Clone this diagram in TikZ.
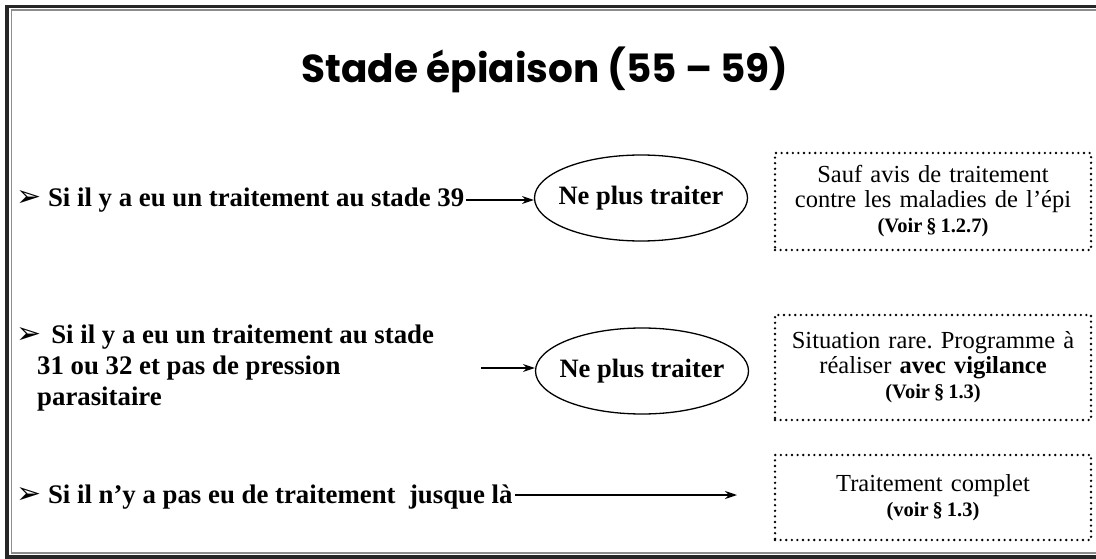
\documentclass[tikz,border=0pt]{standalone}
\usepackage{fontspec}
\setmainfont{Liberation Serif}
\newfontfamily\symfont{DejaVu Sans}
\newfontfamily\titlefont{Poppins}
\usetikzlibrary{shapes.geometric,arrows.meta,positioning}

\tikzset{
  cond/.style={anchor=west,inner sep=2pt,align=left,
    font=\fontsize{26.8}{31}\selectfont\bfseries},
  verdict/.style={ellipse,draw,line width=1.3pt,minimum width=213pt,
    minimum height=86pt,inner xsep=-8pt,inner ysep=0pt,
    font=\fontsize{26.5}{30}\selectfont\bfseries},
  advice/.style={draw,line width=2.6pt,dash pattern=on 0pt off 5.6pt,line cap=round,
    minimum width=316pt,text width=300pt,align=center,inner sep=0pt,
    font=\fontsize{24.5}{25}\selectfont\frenchspacing},
  fleche/.style={line width=1.3pt,-{Stealth[length=12pt,width=8pt]}},
}
\newcommand{\puce}{{\symfont\fontsize{30}{30}\selectfont ➢}}
\newcommand{\voir}[1]{{\fontsize{20.5}{24}\selectfont\bfseries #1}}

\begin{document}
\begin{tikzpicture}[x=1pt,y=-1pt]
\useasboundingbox (0,0) rectangle (1096,559);

% The frame
\begin{scope}
\clip (0,0) rectangle (1096,559);
\draw[line width=3.5pt,black!85] (7,6.5) rectangle (1120,557);
\draw[line width=1.2pt,black!45] (11.5,10) rectangle (1120,553);
\end{scope}

% The title
\node[font=\titlefont\bfseries\fontsize{39}{40}\selectfont,anchor=base] (titre) at (545,83) {Stade épiaison (55 – 59)};

% First case
\node[cond] (cond1) at (14,200) {\puce\ Si il y a eu un traitement au stade 39};
\node[verdict] (ell1) at (641,198) {Ne plus traiter};
\node[advice,minimum height=97pt] (avis1) at (933,201.5) {Sauf avis de traitement\\contre les maladies de l’épi\\\voir{(Voir\hspace{4pt}§\hspace{4pt}1.2.7)}};
\draw[fleche] (cond1.east) -- (cond1.east -| ell1.west);

% Second case
\node[cond] (cond2) at (14,368) {\puce\hspace{10pt}Si il y a eu un traitement au stade\\\hspace*{21pt}31 ou 32 et pas de pression\\\hspace*{21pt}parasitaire};
\coordinate (dep2) at (481,368);
\node[verdict] (ell2) at (642,371) {Ne plus traiter};
\node[advice,minimum height=105pt] (avis2) at (933,367.5) {Situation rare. Programme à\\réaliser \textbf{avec vigilance}\\\voir{(Voir\hspace{4pt}§\hspace{4pt}1.3)}};
\draw[fleche] (dep2) -- (dep2 -| ell2.west);

% Third case
\node[cond] (cond3) at (14,497) {\puce\ Si il n’y a pas eu de traitement\ \ jusque là};
\coordinate (fin3) at (737,495);
\node[advice,minimum height=85pt] (avis3) at (933,497.5) {Traitement complet\\\voir{(voir\hspace{4pt}§\hspace{4pt}1.3)}};
\draw[fleche] (cond3.east |- fin3) -- (fin3);
\end{tikzpicture}
\end{document}
